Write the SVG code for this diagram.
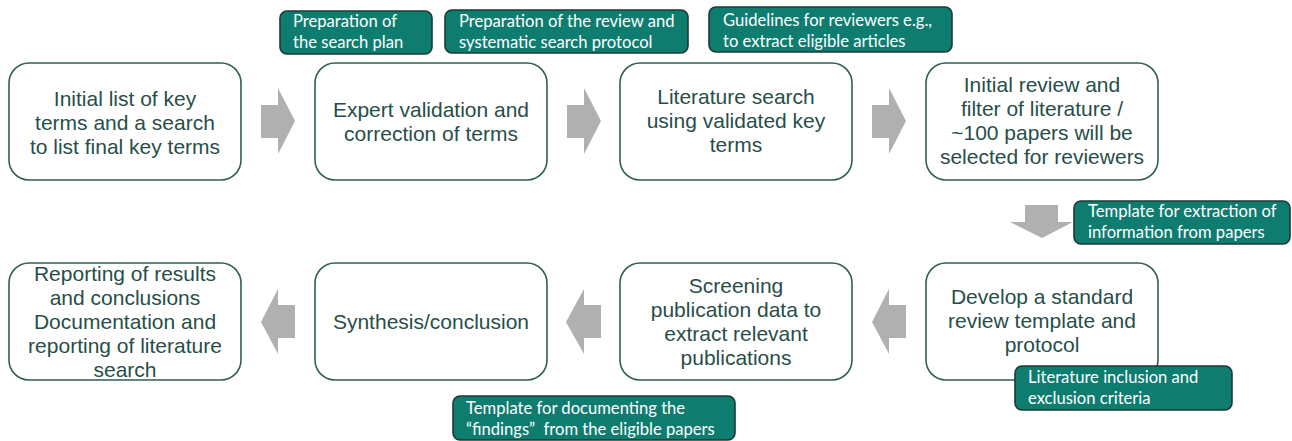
<svg xmlns="http://www.w3.org/2000/svg" width="1292" height="441" viewBox="0 0 1292 441">
<style>
.box{fill:#fff;stroke:#2f5e57;stroke-width:1.6}
.bt{font-family:"Liberation Sans",Arial,sans-serif;font-size:21px;fill:#274e48;text-anchor:middle}
.lab{fill:#0f7c70;stroke:#1c3a35;stroke-width:1.6}
.lt{font-family:Lato,"Open Sans",sans-serif;font-size:16.6px;fill:#fff}
.arr{fill:#b0b0b0}
</style>
<rect width="1292" height="441" fill="#fff"/>
<g id="connectors">
<path class="arr" d="M261,105 H278 V88 L295,121 L278,154 V138 H261 Z"/>
<path class="arr" d="M567,105 H584 V88 L601,121 L584,154 V138 H567 Z"/>
<path class="arr" d="M872,105 H889 V88 L906,121 L889,154 V138 H872 Z"/>
<path class="arr" d="M1025,205 H1058 V222 H1073 L1042,238 L1010,222 H1025 Z"/>
<path class="arr" d="M906,305 H889 V289 L872,322 L889,354 V338 H906 Z"/>
<path class="arr" d="M601,305 H584 V289 L566,322 L584,354 V338 H601 Z"/>
<path class="arr" d="M295,305 H278 V289 L261,322 L278,354 V338 H295 Z"/>
</g>
<g id="n1"><rect class="box" x="9" y="63" width="232" height="117" rx="20"/>
<text class="bt" x="125" y="106">Initial list of key</text><text class="bt" x="125" y="130">terms and a search</text><text class="bt" x="125" y="154">to list final key terms</text></g>
<g id="n2"><rect class="box" x="315" y="63" width="232" height="117" rx="20"/>
<text class="bt" x="431" y="117">Expert validation and</text><text class="bt" x="431" y="141">correction of terms</text></g>
<g id="n3"><rect class="box" x="620" y="63" width="232" height="117" rx="20"/>
<text class="bt" x="736" y="104">Literature search</text><text class="bt" x="736" y="128">using validated key</text><text class="bt" x="736" y="152">terms</text></g>
<g id="n4"><rect class="box" x="926" y="63" width="232" height="117" rx="20"/>
<text class="bt" x="1042" y="92">Initial review and</text><text class="bt" x="1042" y="116">filter of literature /</text><text class="bt" x="1042" y="140">~100 papers will be</text><text class="bt" x="1042" y="164">selected for reviewers</text></g>
<g id="n5"><rect class="box" x="9" y="263" width="232" height="117" rx="20"/>
<text class="bt" x="125" y="281">Reporting of results</text><text class="bt" x="125" y="305">and conclusions</text><text class="bt" x="125" y="329">Documentation and</text><text class="bt" x="125" y="353">reporting of literature</text><text class="bt" x="125" y="377">search</text></g>
<g id="n6"><rect class="box" x="315" y="263" width="232" height="117" rx="20"/>
<text class="bt" x="431" y="329">Synthesis/conclusion</text></g>
<g id="n7"><rect class="box" x="620" y="263" width="232" height="117" rx="20"/>
<text class="bt" x="736" y="293">Screening</text><text class="bt" x="736" y="317">publication data to</text><text class="bt" x="736" y="341">extract relevant</text><text class="bt" x="736" y="365">publications</text></g>
<g id="n8"><rect class="box" x="926" y="263" width="232" height="117" rx="20"/>
<text class="bt" x="1042" y="304">Develop a standard</text><text class="bt" x="1042" y="328">review template and</text><text class="bt" x="1042" y="352">protocol</text></g>
<g id="l1"><rect class="lab" x="280" y="11" width="152" height="43" rx="7"/>
<text class="lt" x="293" y="27">Preparation of</text><text class="lt" x="293" y="48">the search plan</text></g>
<g id="l2"><rect class="lab" x="445" y="10" width="243" height="43" rx="7"/>
<text class="lt" x="459" y="27">Preparation of the review and</text><text class="lt" x="459" y="48">systematic search protocol</text></g>
<g id="l3"><rect class="lab" x="709" y="7" width="243" height="45" rx="7"/>
<text class="lt" x="723" y="26">Guidelines for reviewers e.g.,</text><text class="lt" x="723" y="47">to extract eligible articles</text></g>
<g id="l4"><rect class="lab" x="1074" y="201" width="216" height="43" rx="7"/>
<text class="lt" x="1088" y="217">Template for extraction of</text><text class="lt" x="1088" y="238">information from papers</text></g>
<g id="l5"><rect class="lab" x="1015" y="366" width="217" height="44" rx="7"/>
<text class="lt" x="1028" y="383">Literature inclusion and</text><text class="lt" x="1028" y="404">exclusion criteria</text></g>
<g id="l6"><rect class="lab" x="453" y="396" width="282" height="44" rx="7"/>
<text class="lt" x="466" y="414">Template for documenting the</text><text class="lt" x="466" y="435">“findings”&#160; from the eligible papers</text></g>
</svg>
